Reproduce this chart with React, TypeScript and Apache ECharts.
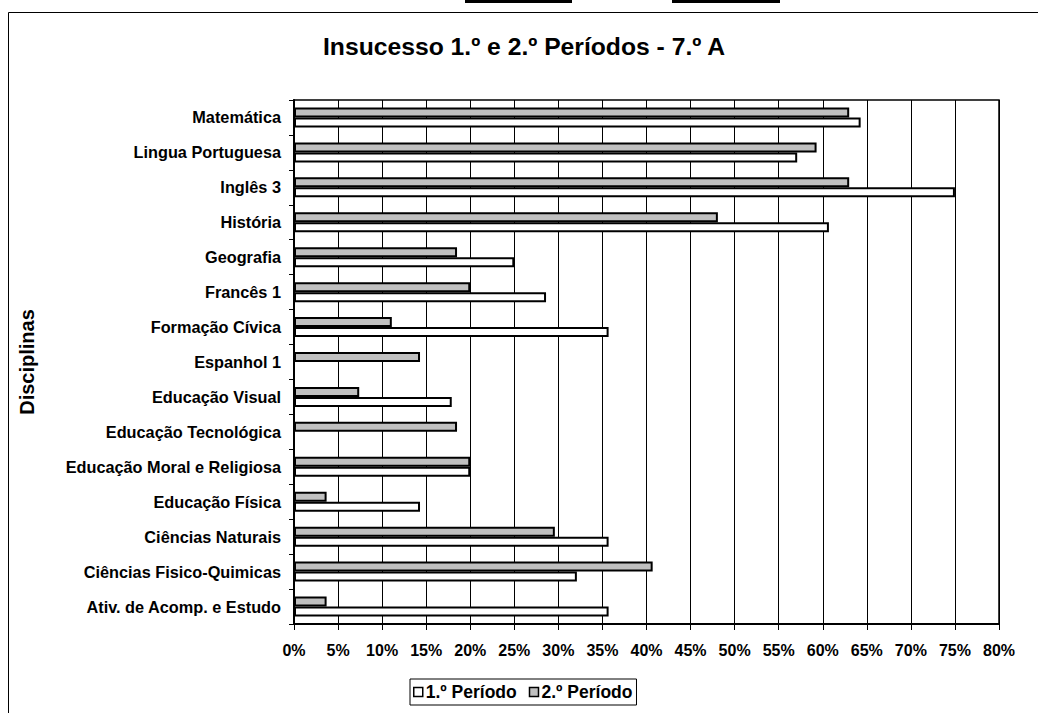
import React, { useEffect, useRef } from "react";
import * as echarts from "echarts";

const categories = [
  "Matemática",
  "Lingua Portuguesa",
  "Inglês 3",
  "História",
  "Geografia",
  "Francês 1",
  "Formação Cívica",
  "Espanhol 1",
  "Educação Visual",
  "Educação Tecnológica",
  "Educação Moral e Religiosa",
  "Educação Física",
  "Ciências Naturais",
  "Ciências Fisico-Quimicas",
  "Ativ. de Acomp. e Estudo",
];

const periodo1 = [64.3, 57.1, 75.0, 60.7, 25.0, 28.6, 35.7, 0, 17.9, 0, 20.0, 14.3, 35.7, 32.1, 35.7];
const periodo2 = [63.0, 59.3, 63.0, 48.1, 18.5, 20.0, 11.1, 14.3, 7.4, 18.5, 20.0, 3.7, 29.6, 40.7, 3.7];

const seriesNames = ["1.º Período", "2.º Período"];
const titleText = "Insucesso 1.º e 2.º Períodos - 7.º A";
const yAxisName = "Disciplinas";

const FONT = "'Liberation Sans', Arial, sans-serif";

export default function App() {
  const ref = useRef<HTMLDivElement>(null);

  useEffect(() => {
    if (!ref.current) return;
    const chart = echarts.init(ref.current, undefined, { renderer: "svg" });
    const barBase = {
      type: "bar" as const,
      barWidth: 10,
      barGap: "0%",
    };
    chart.setOption({
      animation: false,
      backgroundColor: "#ffffff",
      textStyle: { fontFamily: FONT },
      title: {
        text: titleText,
        left: 323,
        top: 34,
        padding: 0,
        textStyle: { fontFamily: FONT, fontSize: 24.7, fontWeight: "bold", color: "#000" },
      },
      graphic: [
        {
          type: "rect",
          shape: { x: 8.5, y: 12.5, width: 1200, height: 900 },
          style: { fill: "none", stroke: "#000", lineWidth: 1 },
          silent: true,
          z: 0,
        },
        {
          type: "rect",
          shape: { x: 465, y: 0, width: 107, height: 3 },
          style: { fill: "#000" },
          silent: true,
        },
        {
          type: "rect",
          shape: { x: 672, y: 0, width: 108, height: 3 },
          style: { fill: "#000" },
          silent: true,
        },
      ],
      legend: {
        data: seriesNames,
        left: 410,
        top: 679,
        orient: "horizontal",
        padding: [4, 4, 4, 3],
        itemGap: 12,
        itemWidth: 9,
        itemHeight: 9,
        icon: "rect",
        borderColor: "#000",
        borderWidth: 1,
        itemStyle: { borderWidth: 1.5 },
        textStyle: { fontFamily: FONT, fontSize: 17.5, fontWeight: "bold", color: "#000", padding: [0, 0, 0, -2] },
      },
      grid: {
        left: 294,
        top: 100,
        right: 39,
        bottom: 89,
        show: true,
        borderColor: "#000",
        borderWidth: 1.5,
        containLabel: false,
      },
      xAxis: {
        type: "value",
        min: 0,
        max: 80,
        interval: 5,
        axisLine: { show: true, lineStyle: { color: "#000", width: 2 } },
        axisTick: { show: true, length: 6, lineStyle: { color: "#000", width: 1 } },
        axisLabel: {
          formatter: (v: number) => `${v}%`,
          fontFamily: FONT,
          fontSize: 16,
          fontWeight: "bold",
          color: "#000",
          margin: 18,
        },
        splitLine: { show: true, lineStyle: { color: "#000", width: 1 } },
      },
      yAxis: {
        type: "category",
        data: categories,
        inverse: true,
        name: yAxisName,
        nameLocation: "middle",
        nameRotate: 90,
        nameGap: 257,
        nameTextStyle: { fontFamily: FONT, fontSize: 20, fontWeight: "bold", color: "#000" },
        axisLine: { show: true, lineStyle: { color: "#000", width: 2 } },
        axisTick: { show: true, length: 5, lineStyle: { color: "#000", width: 1 } },
        axisLabel: {
          fontFamily: FONT,
          fontSize: 16.3,
          fontWeight: "bold",
          color: "#000",
          margin: 13,
        },
        splitLine: { show: false },
      },
      series: [
        {
          ...barBase,
          name: seriesNames[1],
          data: periodo2,
          itemStyle: { color: "#c0c0c0", borderColor: "#000", borderWidth: 2 },
        },
        {
          ...barBase,
          name: seriesNames[0],
          data: periodo1,
          itemStyle: { color: "#ffffff", borderColor: "#000", borderWidth: 2 },
        },
      ],
    });
    return () => chart.dispose();
  }, []);

  return (
    <div
      ref={ref}
      style={{ position: "fixed", left: 0, top: 0, width: 1038, height: 713, background: "#fff" }}
    />
  );
}
